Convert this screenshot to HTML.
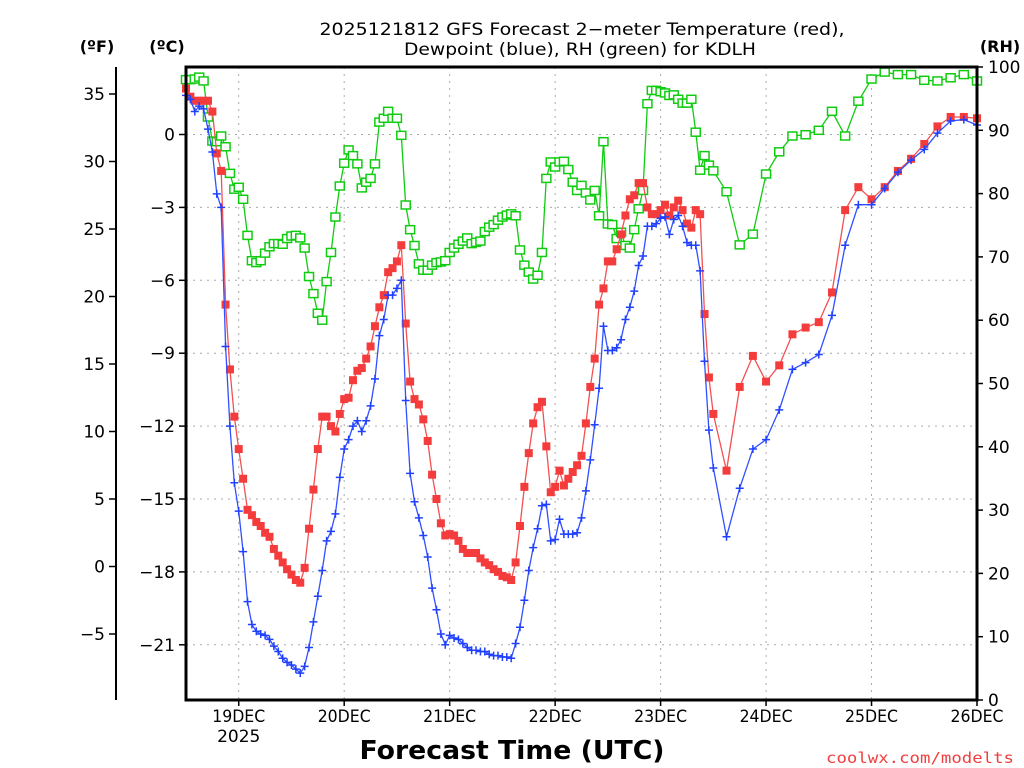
<!DOCTYPE html>
<html><head><meta charset="utf-8"><style>
html,body{margin:0;padding:0;background:#fff;}
svg{display:block;font-family:"DejaVu Sans","Liberation Sans",sans-serif;}
</style></head><body>
<svg id="chart" width="1024" height="768" viewBox="0 0 1024 768" xmlns="http://www.w3.org/2000/svg">
<rect width="1024" height="768" fill="#fff"/>
<g font-size="17" fill="#000" text-anchor="middle">
<text x="582" y="35" textLength="525" lengthAdjust="spacingAndGlyphs">2025121812 GFS Forecast 2−meter Temperature (red),</text>
<text x="580" y="55" textLength="352" lengthAdjust="spacingAndGlyphs">Dewpoint (blue), RH (green) for KDLH</text>
</g>
<text x="97" y="52" font-size="16" font-weight="bold" text-anchor="middle">(ºF)</text>
<text x="167" y="52" font-size="16" font-weight="bold" text-anchor="middle">(ºC)</text>
<text x="1000" y="52" font-size="16" font-weight="bold" text-anchor="middle">(RH)</text>
<g id="grid"></g>
<g id="axes"></g>
<g id="series"></g>
<rect x="186" y="67" width="791" height="633" fill="none" stroke="#000" stroke-width="3"/>
<text x="512" y="759" font-size="26" font-weight="bold" text-anchor="middle" textLength="305" lengthAdjust="spacingAndGlyphs">Forecast Time (UTC)</text>
<text x="826" y="763" font-size="15" fill="#f04040" textLength="188" lengthAdjust="spacingAndGlyphs" font-family="DejaVu Sans Mono, monospace">coolwx.com/modelts</text>
</svg>
<script>
const hours = [0,1,2,3,4,5,6,7,8,9,10,11,12,13,14,15,16,17,18,19,20,21,22,23,24,25,26,27,28,29,30,31,32,33,34,35,36,37,38,39,40,41,42,43,44,45,46,47,48,49,50,51,52,53,54,55,56,57,58,59,60,61,62,63,64,65,66,67,68,69,70,71,72,73,74,75,76,77,78,79,80,81,82,83,84,85,86,87,88,89,90,91,92,93,94,95,96,97,98,99,100,101,102,103,104,105,106,107,108,109,110,111,112,113,114,115,116,117,118,119,120,123,126,129,132,135,138,141,144,147,150,153,156,159,162,165,168,171,174,177,180];
const tempF = [35.4,34.8,34.5,34.5,34.5,34.5,33.7,30.6,29.3,19.4,
14.6,11.1,8.7,6.5,4.2,3.8,3.3,3.0,2.5,2.2,
1.3,0.8,0.3,-0.2,-0.6,-1.0,-1.2,-0.1,2.8,5.7,
8.7,11.1,11.1,10.4,10.0,11.3,12.4,12.5,13.8,14.5,
14.7,15.4,16.3,17.8,19.2,20.1,21.8,22.1,22.6,23.8,
18.0,13.7,12.4,12.0,10.9,9.3,6.8,5.0,3.2,2.3,
2.4,2.3,1.9,1.3,1.0,1.0,1.0,0.6,0.3,0.1,
-0.2,-0.4,-0.7,-0.8,-1.0,0.3,3.0,5.9,8.4,10.6,
11.8,12.2,8.9,5.5,5.9,7.1,6.0,6.5,7.0,7.5,
8.2,10.6,13.3,15.4,19.4,20.6,22.6,22.6,23.5,24.6,
26.0,27.2,27.5,28.4,28.4,26.6,26.1,26.1,26.4,26.8,
26.0,26.6,27.1,26.4,25.4,25.1,26.4,26.1,18.7,14.0,
11.3,7.1,13.3,15.6,13.7,14.9,17.2,17.7,18.1,20.3,
26.4,28.1,27.2,28.1,29.3,30.2,31.3,32.6,33.3,33.3,33.2];
const dewF = [34.9,34.6,33.7,34.1,33.9,32.4,30.7,27.6,26.6,16.3,
10.4,6.2,4.1,1.1,-2.6,-4.3,-4.8,-5.0,-5.1,-5.4,
-5.9,-6.3,-6.8,-7.1,-7.3,-7.6,-7.9,-7.4,-6.0,-4.1,
-2.2,-0.3,1.9,2.6,3.9,6.6,8.7,9.4,10.4,10.8,
10.0,10.8,11.9,13.9,17.1,18.3,20.1,20.1,20.6,21.2,
12.3,6.9,4.8,3.6,2.3,0.7,-1.6,-3.2,-5.0,-5.8,
-5.1,-5.3,-5.4,-5.7,-6.0,-6.2,-6.2,-6.3,-6.3,-6.5,
-6.6,-6.6,-6.7,-6.7,-6.8,-5.7,-4.5,-2.5,-0.3,1.4,
2.8,4.5,4.6,1.9,2.0,3.5,2.4,2.4,2.4,2.5,
3.6,5.6,7.9,10.5,13.2,17.8,16.0,16.0,16.2,16.8,
18.3,19.2,20.4,22.3,23.0,25.2,25.2,25.4,25.8,25.9,
24.6,25.7,26.0,25.2,24.0,23.8,23.8,21.9,15.2,10.1,
7.3,2.2,5.8,8.7,9.4,11.6,14.6,15.1,15.7,18.6,
23.8,26.8,26.8,28.0,29.2,30.1,30.9,32.1,33.0,33.1,32.7];
const rhPct = [98.0,98.0,98.1,98.4,97.8,92.1,88.3,88.2,89.1,87.4,
83.2,80.7,81.0,79.1,73.4,69.4,69.1,69.4,70.6,71.6,
72.1,72.1,72.0,72.9,73.3,73.4,73.0,71.4,66.9,64.2,
61.1,60.0,66.1,70.7,76.3,81.2,84.8,86.9,86.0,84.7,
80.9,81.8,82.4,84.7,91.3,91.9,93.0,91.9,91.9,89.2,
78.2,74.3,71.8,68.9,67.9,67.9,68.7,69.1,69.2,69.4,
70.7,71.4,72.0,72.5,73.0,72.1,72.3,72.5,74.0,74.7,
75.1,75.8,76.3,76.6,76.8,76.5,71.1,68.7,67.6,66.5,
67.1,70.7,82.4,85.0,84.2,85.0,85.1,83.8,81.8,80.5,
81.3,80.1,79.0,80.5,76.5,88.2,75.2,75.1,72.9,73.9,
71.8,71.4,74.3,77.6,80.5,94.2,96.3,96.3,96.1,95.9,
95.5,95.6,94.9,94.3,94.3,94.9,89.7,83.7,86.0,84.5,
83.6,80.3,71.9,73.6,83.1,86.6,89.1,89.3,90.0,93.0,
89.1,94.6,98.1,99.2,98.8,98.8,97.9,97.8,98.3,98.8,97.8];
const dayLabels = ["19DEC","20DEC","21DEC","22DEC","23DEC","24DEC","25DEC","26DEC"];
const dayHours = [12,36,60,84,108,132,156,180];
const fTicks = [35,30,25,20,15,10,5,0,-5];
const cTicks = [0,-3,-6,-9,-12,-15,-18,-21];
const rhTicks = [100,90,80,70,60,50,40,30,20,10,0];

const NS = "http://www.w3.org/2000/svg";
const X0 = 186, X1 = 977, HMAX = 180;
const xOf = h => X0 + (X1 - X0) * h / HMAX;
const yF = f => 566.5 - f * 13.5;
const yC = c => yF(c * 1.8 + 32);
const yRH = r => 700 - r * 6.33;
function mk(tag, attrs, parent) {
  const e = document.createElementNS(NS, tag);
  for (const k in attrs) e.setAttribute(k, attrs[k]);
  parent.appendChild(e);
  return e;
}
const grid = document.getElementById('grid');
const axes = document.getElementById('axes');
const series = document.getElementById('series');

cTicks.forEach(c => {
  const y = yC(c);
  const g = mk('line', {x1: X0, x2: X1, y1: y, y2: y, stroke: '#aaa', 'stroke-dasharray': '2,5', 'stroke-width': 1}, grid);
  
  
  mk('line', {x1: 179, x2: X0, y1: y, y2: y, stroke: '#000', 'stroke-width': 1.5}, axes);
  const t = mk('text', {x: 175, y: y + 6, 'font-size': 17, 'text-anchor': 'end', fill: '#000'}, axes);
  t.textContent = c === 0 ? '0' : '−' + Math.abs(c);
  
  
});
mk('line', {x1: 116, x2: 116, y1: 67, y2: 700, stroke: '#000', 'stroke-width': 2}, axes);
fTicks.forEach(f => {
  const y = yF(f);
  mk('line', {x1: 109, x2: 116, y1: y, y2: y, stroke: '#000', 'stroke-width': 1.5}, axes);
  const t = mk('text', {x: 105, y: y + 6, 'font-size': 17, 'text-anchor': 'end', fill: '#000'}, axes);
  t.textContent = f < 0 ? '−' + Math.abs(f) : String(f);
  
  
});
rhTicks.forEach(r => {
  const y = yRH(r);
  mk('line', {x1: X1, x2: X1 + 6, y1: y, y2: y, stroke: '#000', 'stroke-width': 1.5}, axes);
  const t = mk('text', {x: 988, y: y + 6, 'font-size': 17, 'text-anchor': 'start', fill: '#000'}, axes);
  t.textContent = String(r);
  
  
});
dayHours.forEach((h, i) => {
  const x = xOf(h);
  if (h < HMAX) {
    const g = mk('line', {x1: x, x2: x, y1: 67, y2: 700, stroke: '#aaa', 'stroke-dasharray': '2,5', 'stroke-width': 1}, grid);
    
    
  }
  mk('line', {x1: x, x2: x, y1: 700, y2: 706, stroke: '#000', 'stroke-width': 1.5}, axes);
  const t = mk('text', {x: x, y: 722, 'font-size': 17, 'text-anchor': 'middle', fill: '#000', textLength: 53, lengthAdjust: 'spacingAndGlyphs'}, axes);
  t.textContent = dayLabels[i];
  
  
});
const yr = mk('text', {x: xOf(12), y: 742, 'font-size': 17, 'text-anchor': 'middle', fill: '#000'}, axes);
yr.textContent = '2025';



function drawSeries(vals, yfn, color, lineColor, kind, name) {
  const g = mk('g', {}, series);
  
  
  const pts = hours.map((h, i) => xOf(h).toFixed(1) + ',' + yfn(vals[i]).toFixed(1)).join(' ');
  mk('polyline', {points: pts, fill: 'none', stroke: lineColor, 'stroke-width': 1.3}, g);
  hours.forEach((h, i) => {
    const x = xOf(h), y = yfn(vals[i]);
    let m;
    if (kind === 'filled') {
      m = mk('rect', {x: x - 4, y: y - 4, width: 8, height: 8, fill: color}, g);
    } else if (kind === 'open') {
      m = mk('rect', {x: x - 4.5, y: y - 4, width: 9, height: 8, fill: '#fff', stroke: color, 'stroke-width': 1.5}, g);
    } else {
      m = mk('path', {d: `M${x - 4},${y}H${x + 4}M${x},${y - 4}V${y + 4}`, stroke: color, 'stroke-width': 1.5}, g);
    }
    
    
  });
}
drawSeries(rhPct, yRH, '#10cc10', '#10cc10', 'open', 'rh-series');
drawSeries(tempF, yF, '#f43c3c', '#f45050', 'filled', 'temperature-series');
drawSeries(dewF, yF, '#2040ff', '#3050ff', 'plus', 'dewpoint-series');
</script>
</body></html>
